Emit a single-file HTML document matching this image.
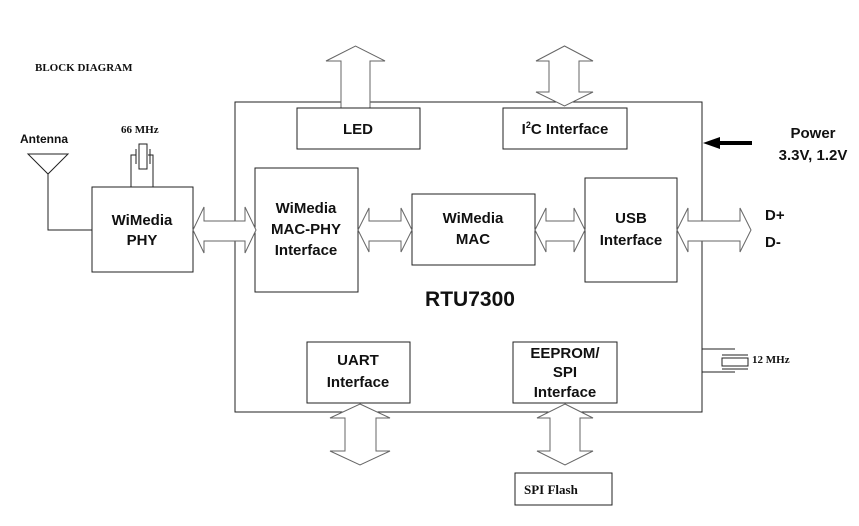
<!DOCTYPE html>
<html><head><style>
body{margin:0;background:#fff;}
svg{display:block;}
.s{font-family:"Liberation Sans",sans-serif;font-weight:bold;fill:#111;}
.r{font-family:"Liberation Serif",serif;font-weight:bold;fill:#111;}
</style></head><body>
<svg width="859" height="526" viewBox="0 0 859 526" xmlns="http://www.w3.org/2000/svg">
<g fill="#fff" stroke="#222" stroke-width="1">
<rect x="235" y="102" width="467" height="310"/>
<!-- LED up arrow -->
<path d="M341,108 V61 H326 L355.5,46 L385,61 H370 V108" fill="#fff" stroke="#666"/>
<!-- I2C double arrow -->
<path d="M549,92 V61 H536 L564.5,46 L593,61 H579 V92 H593 L564.5,106 L536,92 Z" stroke="#666"/>
<rect x="297" y="108" width="123" height="41"/>
<rect x="503" y="108" width="124" height="41"/>
<rect x="92" y="187" width="101" height="85"/>
<rect x="255" y="168" width="103" height="124"/>
<rect x="412" y="194" width="123" height="71"/>
<rect x="585" y="178" width="92" height="104"/>
<rect x="307" y="342" width="103" height="61"/>
<rect x="513" y="342" width="104" height="61"/>
<rect x="515" y="473" width="97" height="32"/>
</g>
<g fill="#fff" stroke="#666" stroke-width="1">
<!-- horizontal double arrows -->
<path d="M193,230 L204,207 V221 H245 V207 L256,230 L245,253 V241 H204 V253 Z"/>
<path d="M358,230 L369,208 V221 H401 V208 L412,230 L401,252 V241 H369 V252 Z"/>
<path d="M535,230 L546,208 V221 H574 V208 L585,230 L574,252 V241 H546 V252 Z"/>
<path d="M677,230 L688,208 V221 H740 V208 L751,230 L740,252 V241 H688 V252 Z"/>
<!-- vertical bottom arrows -->
<path d="M360,404 L390,418 H376 V451 H390 L360,465 L330,451 H345 V418 H330 Z"/>
<path d="M565,404 L593,418 H580 V451 H593 L565,465 L537,451 H550 V418 H537 Z"/>
</g>
<g fill="none" stroke="#222" stroke-width="1">
<!-- antenna -->
<path d="M28,154 H68 L48,174 Z"/>
<path d="M48,174 V230 H92"/>
<!-- 66MHz crystal -->
<path d="M131,187 V155 H136 M153,187 V155 H148"/>
<rect x="139" y="144" width="8" height="25"/>
<path d="M136,149 V164 M150,149 V164"/>
<!-- 12MHz crystal -->
<path d="M702,349 H735 M702,372 H735"/>
<rect x="722" y="358" width="26" height="8"/>
<path d="M722,355 H748 M722,369 H748"/>
</g>
<path d="M752,143 H718" stroke="#000" stroke-width="4"/>
<path d="M703,143 L720,137 L720,149 Z" fill="#000"/>
<text x="35" y="71" class="r" font-size="11">BLOCK DIAGRAM</text>
<text x="20" y="143" class="s" font-size="12" font-weight="normal">Antenna</text>
<text x="121" y="133" class="r" font-size="11">66 MHz</text>
<g class="s" font-size="15" text-anchor="middle">
<text x="358" y="134">LED</text>
<text x="565" y="134">I<tspan font-size="9" dy="-6">2</tspan><tspan dy="6">C Interface</tspan></text>
<text x="142" y="225">WiMedia</text><text x="142" y="245">PHY</text>
<text x="306" y="213">WiMedia</text><text x="306" y="234">MAC-PHY</text><text x="306" y="255">Interface</text>
<text x="473" y="223">WiMedia</text><text x="473" y="244">MAC</text>
<text x="631" y="223">USB</text><text x="631" y="245">Interface</text>
<text x="358" y="365">UART</text><text x="358" y="387">Interface</text>
<text x="565" y="358">EEPROM/</text><text x="565" y="377">SPI</text><text x="565" y="397">Interface</text>
<text x="813" y="138">Power</text><text x="813" y="160">3.3V, 1.2V</text>
</g>
<text x="765" y="220" class="s" font-size="15">D+</text>
<text x="765" y="247" class="s" font-size="15">D-</text>
<text x="470" y="306" class="s" font-size="21" text-anchor="middle">RTU7300</text>
<text x="752" y="363" class="r" font-size="11">12 MHz</text>
<text x="524" y="494" class="r" font-size="13">SPI Flash</text>
</svg>
</body></html>
